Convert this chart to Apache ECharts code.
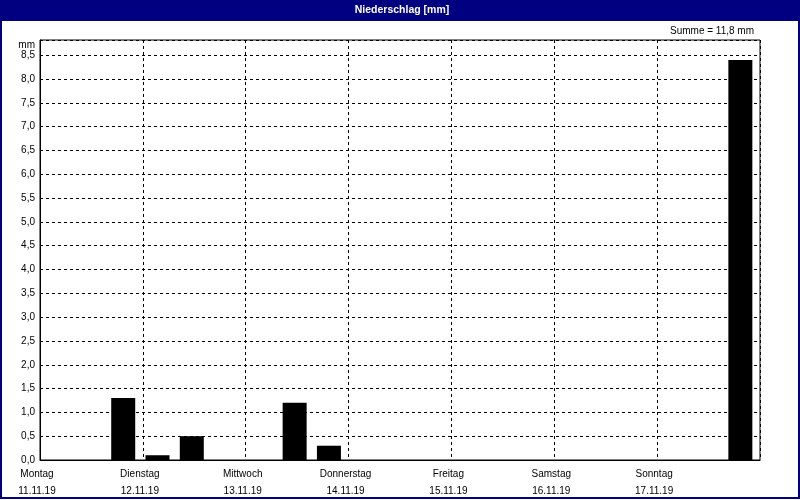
<!DOCTYPE html>
<html>
<head>
<meta charset="utf-8">
<script src="https://cdn.jsdelivr.net/npm/echarts@6/dist/echarts.min.js"></script>
<style>
html,body{margin:0;padding:0;background:#fff;}
#chart{width:800px;height:500px;}
</style>
</head>
<body>
<div id="chart"></div>
<script>
// 8-hour bins, 3 per day, Monday 11.11.19 .. Sunday 17.11.19
var binLabels = [
  'Mo 0-8','Mo 8-16','Mo 16-24',
  'Di 0-8','Di 8-16','Di 16-24',
  'Mi 0-8','Mi 8-16','Mi 16-24',
  'Do 0-8','Do 8-16','Do 16-24',
  'Fr 0-8','Fr 8-16','Fr 16-24',
  'Sa 0-8','Sa 8-16','Sa 16-24',
  'So 0-8','So 8-16','So 16-24'
];
var precip = [0,0,1.3, 0.1,0.5,0, 0,1.2,0.3, 0,0,0, 0,0,0, 0,0,0, 0,0,8.4];
var dayNames = ['Montag','Dienstag','Mittwoch','Donnerstag','Freitag','Samstag','Sonntag'];
var dayDates = ['11.11.19','12.11.19','13.11.19','14.11.19','15.11.19','16.11.19','17.11.19'];
var titleText = 'Niederschlag [mm]';
var unitText = 'mm';
var yMax = 8.82;

var total = precip.reduce(function(a,b){return a+b;},0);
var sumText = 'Summe = ' + total.toFixed(1).replace('.', ',') + ' mm';

var FONT = '"Liberation Sans", Arial, sans-serif';
var chart = echarts.init(document.getElementById('chart'), null, {renderer:'canvas'});
var option = {
  animation: false,
  backgroundColor: '#ffffff',
  textStyle: {fontFamily: FONT},
  graphic: [
    {type:'rect', z:0, shape:{x:0,y:0,width:800,height:21}, style:{fill:'#000080'}},
    {type:'rect', z:0, shape:{x:1,y:1,width:798,height:497}, style:{fill:null, stroke:'#000080', lineWidth:2}},
    {type:'text', z:10, x:402, y:10, style:{text:titleText, fill:'#ffffff', font:'bold 10.5px ' + FONT, align:'center', verticalAlign:'middle'}},
    {type:'text', z:10, x:754, y:31, style:{text:sumText, fill:'#000000', font:'10px ' + FONT, align:'right', verticalAlign:'middle'}},
    {type:'text', z:10, x:35, y:45, style:{text:unitText, fill:'#000000', font:'10px ' + FONT, align:'right', verticalAlign:'middle'}}
  ],
  grid: {left:40, right:40, top:40, bottom:40, show:true, borderColor:'#000', borderWidth:1, backgroundColor:'transparent'},
  xAxis: [
    {
      type:'category', data: binLabels, boundaryGap:true, position:'bottom',
      axisLine:{show:true, lineStyle:{color:'#000', width:1}},
      axisTick:{show:false}, axisLabel:{show:false}, splitLine:{show:false}
    },
    {
      type:'value', min:0, max:7, interval:1, position:'bottom',
      axisLine:{show:false}, axisTick:{show:false},
      axisLabel:{
        show:true, color:'#000', fontSize:10, fontFamily:FONT, lineHeight:17, margin:6,
        padding:[0,6,0,0],
        showMinLabel:true, showMaxLabel:true,
        formatter:function(v){ var i=Math.round(v); return i<7 ? dayNames[i] + '\n' + dayDates[i] : ''; }
      },
      splitLine:{show:true, lineStyle:{color:'#000', width:1, type:[3,3]}}
    }
  ],
  yAxis: {
    type:'value', min:0, max:yMax, interval:0.5,
    axisLine:{show:true, lineStyle:{color:'#000'}}, axisTick:{show:false},
    axisLabel:{color:'#000', fontSize:10, fontFamily:FONT, margin:5, showMaxLabel:false,
      formatter:function(v){ return v.toFixed(1).replace('.', ','); }},
    splitLine:{show:true, lineStyle:{color:'#000', width:1, type:[3,3]}}
  },
  series: [
    {type:'bar', xAxisIndex:0, data:precip, barWidth:24, barGap:'0%', itemStyle:{color:'#000'}, z:3},
    {type:'bar', xAxisIndex:0, data:precip.map(function(){return null;}), barWidth:5, itemStyle:{color:'transparent'}}
  ]
};
chart.setOption(option);
</script>
</body>
</html>
